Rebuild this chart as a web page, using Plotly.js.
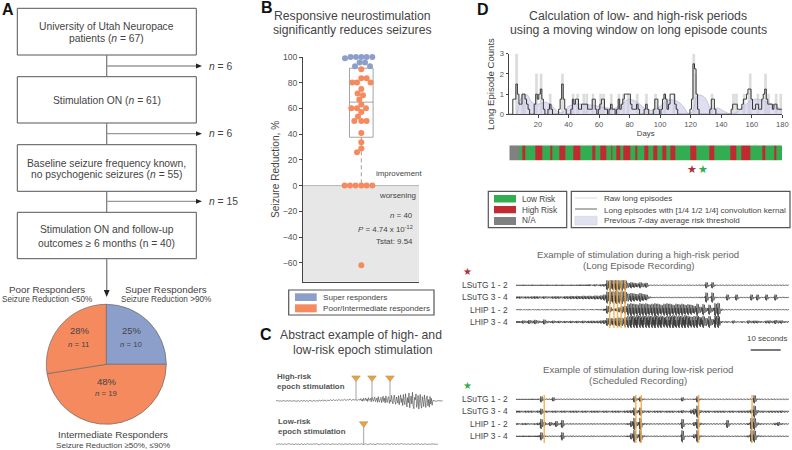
<!DOCTYPE html>
<html><head><meta charset="utf-8">
<script src="https://cdn.plot.ly/plotly-3.0.1.min.js"></script>
<style>html,body{margin:0;padding:0;background:#fff}#c{width:792px;height:450px}</style>
</head><body><div id="c"></div>
<script>
// ---------- Panel A data ----------
const responderNames = ['Super Responders','Intermediate Responders','Poor Responders'];
const responderCounts = [10,19,11];
// ---------- Panel B data ----------
const superOffsets = [-16.3,-10.7,-5.3,0,5.3,11,-6.3,-1.7,3.7,8.7];
const superReduction = [99,100,100,100,100,100,92.9,95.7,95.7,92.9];
const otherOffsets = [0,-9,-4.3,9.3,0,5.3,0,-3.7,1.7,-2,0,-10,-4.3,4.7,0,-3.3,-7,0,5.3,0,0,0,-4.3,-16.7,-11.3,-5.7,0,5.3,11,0];
const otherReduction = [90.5,80.2,80.2,80.2,83.5,83.5,75.2,71.6,70.3,66.9,63,60.2,60.2,60.2,57.3,53.7,50.3,50.3,50.3,41,33.7,28.8,25.9,0,0,0,0,0,0,-62];
const boxQ1 = 37.6, boxMedian = 64.9, boxQ3 = 91.3;
// ---------- Panel C data ----------
const highRiskQuiet = [0,.4,-.3,.2,-.4,.3,0,-.3,.4,-.2,.3,-.4,.2,0,.4,-.3,.3,-.5,.4,-.2,.5,-.3,.2,-.4,.5,0,-.3,.6,-.4,.3,-.2,.7,-.1,.9,.2,1,-.2,.8,.3,1.3,.1,1.4,.2,1.1,.5,1.6,.3,1.2,.6,1.8,.4,1.4,.8,1.9,.3,1.6,.9,1.2,.5,1.6];
const highRiskBurst = [.8,2.4,.2,1.6,-.3,2.8,.4,1.2,3.1,.2,2,-.6,3.4,.6,1.1,2.6,-.9,3.8,.2,-.4,2.2,4.1,-.7,1.5,3,-1.4,4.4,.3,-1.2,2.4,3.7,-1.8,1,4.9,-.6,2.8,-2.1,5.2,.4,-1.5,3.3,4.4,-2.6,1.2,-.8,5.6,.6,-3,2.4,6,-1.2,-3.4,4.1,1,-2.2,5.3,-4,.8,6.2,-1.6,2.6,-4.8,6.6,-.4,-3.8,7.4,1.8,-6.2,3.4,-2,8.2,-7,.6,5,-3.2,8.9,-5.4,-8,3.6,1.2,7.2,-6.6,-2.4,5.6,-8.3,2.8,6.8,-4.2,-7.4,4.4,.8,-5.8,6.2,-2.6,-6.8,3.8,5.2,-5,1.4,-6.4,4.6,-3.2,2.6,-4.6];
const highRiskTail = [.6,.1,-.3,.2,.1,-.1,0];
const lowRiskTrace = [.2,-.3,.4,-.2,.3,-.5,.5,-.3,.2,.5,-.4,.3,-.6,.4,-.2,.1,-.5,.5,-.7,.3,-.4,.6,-.3,.2,-.5,.4,-.2,.5,-.3,-.6,.2,.4,-.4,.3,-.2,.5,-.5,.2,.4,-.3,.3,-.4,.5,-.2,.3,-.5,.4,.1,-.4,.5,-.3,.2,-.3,.4,-.5,.3,-.2,.5,-.4,.1,.4,-.6,.2,.5,-.3,.2,-.5,.3,.6,-.2,.4,-.4,.6,-.3,.5,.1,-.4,.6,-.2,.4,-.5,.5,-.3,.3,.6,-.2,.4,-.4,.5,-.3,.2,.4,-.4,.3,-.2,.4,-.3,.2,-.4,.3,.1,-.3,.2,-.2,.3,-.1,.2,-.2,.1];
const highRiskStim = [80,96,114];
const lowRiskStim = [87.7];
// ---------- Panel D data ----------
const rawDays = [6,10,11,19,22,28,36,43,46,50,52,56,61,63,68,73,76,79,85,91,97,103,109,122,123,134,148,150,155,158,159,164,169,171,176,179];
const rawCounts = [3,1,1,2,2,1,2,1,1,1,1,1,1,1,1,1,1,1,1,1,1,1,1,3,2,1,1,1,1,1,2,1,2,1,1,1];
const convolved = [0,0,0,.75,.75,1.5,1,.5,.5,1,1,.75,.5,.25,0,0,0,.5,1,.75,1,1.25,.75,.25,0,0,.25,.5,.25,0,0,0,0,.25,.75,1.5,.75,.25,0,0,0,.25,.75,.5,.75,.75,.25,.25,.5,.5,.5,.5,.25,.25,.25,.75,.75,.25,0,.25,.5,.75,.75,.25,.25,0,.25,.5,.25,.25,0,.25,.75,.25,.5,.75,1,1,1,1,.5,.25,.25,.25,.5,.25,0,0,0,.25,.5,.25,0,0,0,.25,.75,.75,.25,0,.25,.75,1,.75,.25,.5,1,1,1,.5,.25,0,0,0,0,0,0,0,0,.25,.75,2.5,2.25,1,.25,0,0,0,0,0,0,0,.25,.75,.75,.25,0,0,0,0,0,0,0,0,0,0,.25,.5,.5,.5,.25,.25,.25,.5,.75,.75,1,1.25,1.25,.75,.25,.25,.5,.5,.25,.25,.75,1,1.25,.75,.5,.5,.5,.25,.5,.5,.25,.25,.25,.25];
const thresholdDays = [6,7,8,10,13,16,20,25,30,33,36,40,45,50,55,60,65,70,75,78,80,85,90,95,100,105,109,113,116,118,120,122,124,126,129,131,133,138,143,147,152,155,158,163,170,175,178,180];
const thresholdVals = [0,.3,.6,.95,.95,.6,.5,.6,.35,.12,.08,.4,.5,.5,.45,.4,.32,.3,.5,.7,.75,.6,.3,.2,.4,.7,.7,.55,.3,.08,.05,.3,.9,.95,.85,.6,.3,.3,.1,0,.2,.4,.6,.75,.6,.45,.3,.1];
const riskEdges = [1.3,7.8,8.25,8.7,10,11.8,18.1,22.9,28.3,29.4,33.8,37.7,43.2,47.5,55.8,57.6,60.6,64.6,67.8,68.7,71.6,73.7,75.7,80.3,84,84.9,89.7,92,95.3,98.4,101.5,104.3,106.5,110.2,119.6,123.5,132.2,135.3,146.2,150.1,153.4,158.9,166.9,169.1,175,176.1,179.8];
const riskClass = [2,0,1,0,1,0,1,0,1,0,1,0,1,0,1,0,1,0,1,0,1,0,1,0,1,0,1,0,1,0,1,0,1,0,1,0,1,0,1,0,1,0,1,0,1,0];
const channelNames = ['LSuTG 1 - 2','LSuTG 3 - 4','LHIP 1 - 2','LHIP 3 - 4'];
// envelope amplitude of each recording, one value per second
const highLSuTG12 = [.5,.5,.6,.5,.5,.6,.5,.5,.6,.5,.6,.5,.5,.6,.5,.6,.5,.5,.6,.5,.6,.7,.6,.7,.8,.7,1,.8,1,1.2,5,5.5,5,5.5,5,5.5,5,2.5,3,2.5,2,3,2,2.5,.5,.4,.5,.4,.4,.5,.4,.4,.5,.4,.5,.4,.4,.5,.4,.4,.5,.6,.5,3,.5,3,.6,.4,.5,.4,.5,.4,.5,.4,.5,.4,.5,.4,.5,.4,.5,.4,.5,.4,.5,.4,.5,.4,.5,.4,.4];
const highLSuTG34 = [1,1.2,1,1.1,1,1.2,1.4,1.2,1,1.3,1.1,1,1.2,1.3,1.2,1,1.4,1.3,1.6,1.4,1.7,1.5,1.8,1.6,1.8,1.6,2,1.8,2.2,3,6,6.5,6,6.5,6,6.5,6,4,4.5,4,3.5,4.5,3.5,3,1,.6,.5,.5,.6,.5,.5,.6,.5,.5,.6,.5,.5,.5,.6,.5,.6,.7,.6,5,.6,5,.7,.5,.5,.5,3,.5,.5,3,.5,.5,.5,.5,3,.5,3,.5,.5,3,.5,.5,3,.5,.5,.6,.5];
const highLHIP12 = [.4,.4,.4,.3,.4,.4,.3,.4,.4,.3,.4,.4,.3,.4,.4,.3,.4,.4,.3,.4,.4,.4,.4,.4,.4,.4,.5,.4,.5,1,4,2.5,1,1.5,2.5,3.5,4,6,6.5,6,5.5,6.5,6,6.5,5.5,6,6.5,6,5,6,6.5,6,5,6,5.5,6,5,5.5,5,4,6,3,5.5,2,5,2,6.5,7,1,.4,.4,.4,.3,.4,.4,.3,.4,.4,.3,.4,.4,.4,.3,.4,.4,.3,.4,.4,.3,.4,.4];
const highLHIP34 = [1,1,1.6,1.2,2,1.4,2.2,1.4,1,2.5,1.2,1,1.4,1,1.2,.9,1.1,1,1.2,1,1.2,1,1.3,1.1,1.2,1.3,1.2,1.3,1.6,2,4,4,3.5,4,4.5,4,5,6,6.5,6,7,6,6.5,6,6.5,6,7,6,6.5,5.5,6,6.5,7,6,6.5,6,7,6,5.5,6,6.5,5,6,4,6,3,6.5,6,1,.7,.8,.6,1.5,.7,.6,.8,.6,1.6,1.2,1.4,1.3,1,.7,1.4,1.5,1.2,2,1.4,1.6,1,.8];
const lowLSuTG12 = [.5,.5,.5,.5,.5,.6,.5,.6,3,.6,.6,.6,2,.5,.5,.5,.5,.5,.6,.5,.5,.5,.5,.6,.5,.5,.5,.5,.6,.5,.5,.5,.5,.5,.6,.5,.5,.6,.7,3,1,2.5,.7,.5,.5,.6,.5,.5,.5,.6,.5,.5,.5,.6,.5,2,.5,.6,.5,.7,3,.7,.6,.5,.5,.5,.5,.6,.5,.5,.6,.5,.5,.5,.6,.5,.5,.6,.7,4,.7,.6,.5,.5,.5,.6,.5,.5,.5,.5,.5];
const lowLSuTG34 = [1,1,.9,1,1,1,.9,1.1,3,1,1,.9,1,1,.9,1,1,.9,1,1,1,.9,1,1,.9,1,1,1,.9,1,1,.9,1,1,1,.9,1.1,1.2,1.5,4,1.5,4,1.2,1,1,.9,1,1,1,.9,1,1,1,.9,1,1.5,1,.9,2,3,6,1.4,1,1,1,.9,1,1,1,1,.9,1,1,.9,1,1,1,1.2,2,6,1.5,1,1,.9,1,1,1,1,1.2,1,.9];
const lowLHIP12 = [.8,.7,.9,1,.8,.7,.8,1.2,5,2,.8,2,1.2,3,.8,4,.6,.6,.7,.6,.6,.7,.6,.6,.6,.7,.6,.6,.6,.7,.6,.6,.7,.6,.6,.6,.7,.9,3,6,2,6,1,.8,.7,.6,.6,.7,.6,.6,.7,.6,.6,.6,.7,5,.6,.7,.6,2,5,1.2,.8,.7,.6,.6,.7,.6,.6,.7,4,.7,.6,.6,.7,.6,.7,1,6,6,1.5,.9,.7,.7,.6,.7,1.2,2,.9,.7,.6];
const lowLHIP34 = [.6,.6,.7,.6,.7,.6,.7,.8,4,1,.6,.6,.7,.6,.6,4,.6,.6,.7,.6,.6,.6,.7,.6,.6,.7,.6,.6,.6,.7,.6,.6,.7,.6,.6,.6,.7,.8,3,6,2,6,1,.7,.6,.6,.7,.6,.6,.7,.6,.6,.6,.7,.6,6,.6,.7,.7,2,6,.9,.7,.6,.6,.7,.6,.6,.7,.6,.7,.6,.6,.7,.6,.6,.7,1,6,6,1,.8,.7,.6,.7,.6,.6,.7,.6,.6,.6];
const stimHighSec = [31.2,32.6,33.8,35,36.3];
const stimLowSec = [9.4,39.9,41.7,60.8,78.6];

// ---------- helpers ----------
const W=792,H=450,FONT='"Liberation Sans", Arial, sans-serif';
const BLUE='#8c9fcb',ORANGE='#f58a5e',TXT='#444',STIM='#f3b04e';
const px=x=>x/W, py=y=>1-y/H;
const dx=(a,b)=>[a/W,b/W], dy=(top,bot)=>[1-bot/H,1-top/H];
const annotations=[],shapes=[],traces=[];
function T(text,x,y,size,o={}){annotations.push({text,x:px(x),y:py(y),xref:'paper',yref:'paper',showarrow:false,
  xanchor:o.a||'center',yanchor:'middle',textangle:o.rot||0,borderpad:0,
  font:{family:FONT,size,color:o.c||TXT,weight:o.b?700:400}});}
function L(x0,y0,x1,y1,c,w,dash){shapes.push({type:'line',xref:'paper',yref:'paper',x0:px(x0),y0:py(y0),x1:px(x1),y1:py(y1),line:{color:c,width:w,dash:dash||'solid'}});}
function R(x0,y0,x1,y1,fill,line,w){shapes.push({type:'rect',xref:'paper',yref:'paper',x0:px(x0),y0:py(y0),x1:px(x1),y1:py(y1),fillcolor:fill||'rgba(0,0,0,0)',line:{color:line||'rgba(0,0,0,0)',width:w||0}});}
function P(pts,fill){shapes.push({type:'path',xref:'paper',yref:'paper',path:'M'+pts.map(p=>px(p[0])+' '+py(p[1])).join('L')+'Z',fillcolor:fill,line:{width:0}});}

// ---------- Panel A: flow chart ----------
[[8.3,55],[76.7,123],[144.7,191.3],[212.3,258.7]].forEach(b=>R(17.3,b[0],196.3,b[1],'#fff','#555',1));
T('University of Utah Neuropace',106.7,26.5,10.3);T('patients (<i>n</i> = 67)',106.7,38.5,10.3);
T('Stimulation ON (<i>n</i> = 61)',106.7,100.5,10.3);
T('Baseline seizure frequency known,',106.7,163,10.3);T('no psychogenic seizures (<i>n</i> = 55)',106.7,175,10.3);
T('Stimulation ON and follow-up',106.7,230,10.3);T('outcomes ≥ 6 months (n = 40)',106.7,243,10.3);
[[55,76.7,66,'6'],[123,144.7,133.7,'6'],[191.3,212.3,201.3,'15']].forEach(a=>{
  L(106.7,a[0],106.7,a[1],'#777',1.2);L(106.7,a[2],198,a[2],'#999',1.3);
  P([[196,a[2]-2.4],[202,a[2]],[196,a[2]+2.4]],'#222');
  T('<i>n</i> = '+a[3],208,a[2],10.3,{a:'left'});
});
L(106.7,258.7,106.7,292,'#888',1.4);P([[103.8,290],[106.7,297],[109.6,290]],'#222');
T('Poor Responders',47,289,9.8);T('Seizure Reduction <50%',46.7,299.3,8.2);
T('Super Responders',165.7,289,9.8);T('Seizure Reduction >90%',165.7,299.3,8.2);
T('Intermediate Responders',112.7,434,9.8);T('Seizure Reduction ≥50%, ≤90%',112.5,445,8.1);
T('28%',80,330.7,9.5);T('<i>n</i> = 11',78.7,344,7.8);
T('25%',132,330.7,9.5);T('<i>n</i> = 10',131,344,7.8);
T('48%',107,381,9.5);T('<i>n</i> = 19',106,393,7.8);
traces.push({type:'pie',labels:responderNames,values:responderCounts,sort:false,direction:'clockwise',rotation:0,
  textinfo:'none',hoverinfo:'label+value',showlegend:false,automargin:false,
  marker:{colors:[BLUE,ORANGE,ORANGE],line:{color:'#6a6a6a',width:.7}},
  domain:{x:dx(46.3,166.3),y:dy(304.3,424.3)}});

// ---------- Panel B ----------
shapes.push({type:'rect',xref:'x',yref:'y',x0:-58.3,x1:57.7,y0:-74.7,y1:0,fillcolor:'#e7e7e7',line:{width:0},layer:'below'});
shapes.push({type:'line',xref:'x',yref:'y',x0:-58.3,x1:57.7,y0:0,y1:0,line:{color:'#b5b5b5',width:1},layer:'below'});
traces.push({type:'scatter',mode:'lines',x:[0,0],y:[boxQ1,0],line:{color:'#888',width:.8,dash:'4px,3px'},showlegend:false,hoverinfo:'skip',xaxis:'x',yaxis:'y'});
traces.push({type:'scatter',mode:'markers',x:superOffsets,y:superReduction,marker:{color:BLUE,size:6},cliponaxis:false,showlegend:false,xaxis:'x',yaxis:'y'});
traces.push({type:'scatter',mode:'markers',x:otherOffsets,y:otherReduction,marker:{color:ORANGE,size:6},cliponaxis:false,showlegend:false,xaxis:'x',yaxis:'y'});
traces.push({type:'box',x:[0],q1:[boxQ1],median:[boxMedian],q3:[boxQ3],lowerfence:[boxQ1],upperfence:[boxQ3],width:23.6,
  fillcolor:'rgba(0,0,0,0)',line:{color:'#9a9a9a',width:.9},whiskerwidth:0,boxpoints:false,showlegend:false,xaxis:'x',yaxis:'y'});
T('Responsive neurostimulation',352.7,15.7,12.2);T('significantly reduces seizures',352.7,30.3,12.2);
T('improvement',375,173.3,7.9,{a:'left'});T('worsening',416.7,196,7.9,{a:'right'});
T('<i>n</i> = 40',414,215.7,7.9,{a:'right'});
T('<i>P</i> = 4.74 x 10<sup>-12</sup>',414,228.7,7.9,{a:'right'});
T('Tstat: 9.54',414,241.3,7.9,{a:'right'});
R(288.7,290,434,315,'#fff','#555',1.2);
R(295,293.3,316.7,301,BLUE);R(295,304.3,316.7,312.3,ORANGE);
T('Super responders',321.7,297.3,8.1,{a:'left'});T('Poor/Intermediate responders',321.7,308.3,8.1,{a:'left'});

// ---------- Panel C ----------
T('Abstract example of high- and',361,335,12.2);T('low-risk epoch stimulation',362.7,350,12.2);
T('High-risk',275.7,376.7,7.9,{a:'left',b:1,c:'#555'});T('epoch stimulation',275.7,386,7.9,{a:'left',b:1,c:'#555'});
T('Low-risk',276.5,421.7,7.9,{a:'left',b:1,c:'#555'});T('epoch stimulation',276.5,431,7.9,{a:'left',b:1,c:'#555'});
const cHigh=44.3,cLow=0;
function stems(list,base,top){const X=[],Y=[];list.forEach(s=>{X.push(s,s,null);Y.push(base,top,null);});return{X,Y};}
const quietX=highRiskQuiet.map((v,i)=>i*1.4), burstX=highRiskBurst.map((v,i)=>84+i*.7), tailX=highRiskTail.map((v,i)=>157+i*1.6);
traces.push({type:'scatter',mode:'lines',x:quietX.concat(burstX,tailX),y:highRiskQuiet.concat(highRiskBurst,highRiskTail).map(v=>cHigh+v),line:{color:'#333',width:.55},showlegend:false,hoverinfo:'skip',xaxis:'x6',yaxis:'y6'});
traces.push({type:'scatter',mode:'lines',x:lowRiskTrace.map((v,i)=>i*1.5),y:lowRiskTrace.map(v=>cLow+v),line:{color:'#555',width:.6},showlegend:false,hoverinfo:'skip',xaxis:'x6',yaxis:'y6'});
const s1=stems(highRiskStim,cHigh+1,cHigh+21),s2=stems(lowRiskStim,cLow,cLow+19);
traces.push({type:'scatter',mode:'lines',x:s1.X.concat(s2.X),y:s1.Y.concat(s2.Y),line:{color:'#8a8a8a',width:.8},showlegend:false,hoverinfo:'skip',xaxis:'x6',yaxis:'y6'});
traces.push({type:'scatter',mode:'markers',x:highRiskStim.concat(lowRiskStim),y:highRiskStim.map(()=>cHigh+23.7).concat([cLow+21]),
  marker:{symbol:'triangle-down',size:7.5,color:'#eaa23f',line:{color:'#b98a50',width:.5}},showlegend:false,hoverinfo:'skip',cliponaxis:false,xaxis:'x6',yaxis:'y6'});

// ---------- Panel D: counts ----------
T('Calculation of low- and high-risk periods',638.3,15.7,12.3);T('using a moving window on long episode counts',638.3,30.3,12.3);
traces.push({type:'scatter',mode:'lines',x:thresholdDays,y:thresholdVals,fill:'tozeroy',fillcolor:'rgba(204,204,232,.62)',line:{color:'#b3b3d2',width:.7,shape:'spline'},showlegend:false,hoverinfo:'skip',xaxis:'x2',yaxis:'y2'});
traces.push({type:'bar',x:rawDays,y:rawCounts,width:1.3,marker:{color:'#dedede',line:{color:'#cccccc',width:.4}},showlegend:false,xaxis:'x2',yaxis:'y2'});
traces.push({type:'scatter',mode:'lines',x:convolved.map((v,i)=>i+1),y:convolved,line:{color:'#333',width:1,shape:'hvh'},showlegend:false,hoverinfo:'skip',xaxis:'x2',yaxis:'y2'});
// risk strip
traces.push({type:'heatmap',x:riskEdges,y:[0],z:[riskClass],zmin:0,zmax:2,showscale:false,hoverinfo:'skip',xaxis:'x3',yaxis:'y3',
  colorscale:[[0,'#33ad50'],[.33,'#33ad50'],[.34,'#c12a30'],[.66,'#c12a30'],[.67,'#808080'],[1,'#808080']]});
T('★',692.3,168.7,11,{c:'#a8323c'});T('★',703.3,168.7,11,{c:'#33ad50'});
// legends
R(488.3,191.3,566.7,227.7,'#fff','#555',1.2);R(571.3,191.3,790,227.7,'#fff','#555',1.2);
R(494,195,516,202.5,'#33ad50');R(494,206,516,213.3,'#c12a30');R(494,217,516,225,'#808080');
T('Low Risk',521.3,199,8.2,{a:'left'});T('High Risk',521.3,210,8.2,{a:'left'});T('N/A',521.3,221,8.2,{a:'left'});
L(575,198,597,198,'#d9d9d9',1);L(575,209,597,209,'#555',.9);R(575,216.3,597,225,'#e1e1f0','#cfcfe2',.6);
T('Raw long episodes',602.7,198.5,8.1,{a:'left'});T('Long episodes with [1/4 1/2 1/4] convolution kernal',602.7,210,8.1,{a:'left'});T('Previous 7-day average risk threshold',602.7,221,8.1,{a:'left'});

// ---------- Panel D: recordings ----------
const swing=[.3,-.8,1,-1,.7,-.4,.9,-.6];
function zig(amps,base){const X=[],Y=[],k=0.082;amps.forEach((a,i)=>{swing.forEach((m,j)=>{X.push(i+j/swing.length);Y.push(base+m*a*k);});});return{X,Y};}
function eeg(amps,base,xa,ya){const z=zig(amps,base);traces.push({type:'scatter',mode:'lines',x:z.X,y:z.Y,line:{color:'#111',width:.5},showlegend:false,hoverinfo:'skip',xaxis:xa,yaxis:ya});}
[highLSuTG12,highLSuTG34,highLHIP12,highLHIP34].forEach((a,i)=>eeg(a,3-i,'x4','y4'));
[lowLSuTG12,lowLSuTG34,lowLHIP12,lowLHIP34].forEach((a,i)=>eeg(a,3-i,'x5','y5'));
function stimLines(list,xa,ya,lo,hi){const s=stems(list,lo,hi);traces.push({type:'scatter',mode:'lines',x:s.X,y:s.Y,line:{color:STIM,width:1.5},opacity:.9,showlegend:false,hoverinfo:'skip',xaxis:xa,yaxis:ya});}
stimLines(stimHighSec,'x4','y4',-.49,3.43);
stimLines(stimLowSec,'x5','y5',-.54,3.35);
T('Example of stimulation during a high-risk period',638.3,254,9.6,{c:'#666'});T('(Long Episode Recording)',638.3,265,9.6,{c:'#666'});
T('Example of stimulation during low-risk period',638.3,369,9.6,{c:'#666'});T('(Scheduled Recording)',638.3,380,9.6,{c:'#666'});
T('★',467.5,271.7,9.5,{c:'#a8323c'});T('★',467.5,385,9.5,{c:'#33ad50'});
[285.3,297.3,310,322].forEach((y,i)=>T(channelNames[i],509,y,8.4,{a:'right'}));
[399.3,411.3,423.7,436.3].forEach((y,i)=>T(channelNames[i],509,y,8.4,{a:'right'}));
T('10 seconds',788,338.7,7.9,{a:'right'});
L(750.7,350,780.7,350,'#222',1.2);

// letters
T('A',1,9,16,{a:'left',b:1,c:'#111'});T('B',260,7.7,16,{a:'left',b:1,c:'#111'});
T('C',259,334,16,{a:'left',b:1,c:'#111'});T('D',476,9,16,{a:'left',b:1,c:'#111'});

const hidden=(domain,range,anchor)=>({domain,range,anchor,visible:false,fixedrange:true});
const tickFont=(s)=>({family:FONT,size:s,color:'#555'});
const layout={width:W,height:H,margin:{l:0,r:0,t:0,b:0,pad:0},paper_bgcolor:'#fff',plot_bgcolor:'rgba(0,0,0,0)',showlegend:false,
  barmode:'overlay',annotations,shapes,font:{family:FONT},
  xaxis:{domain:dx(303,419),range:[-58.3,57.7],anchor:'y',showgrid:false,zeroline:false,showticklabels:false,ticks:'',showline:true,linecolor:'#444',linewidth:1},
  yaxis:{domain:dy(57,281.7),range:[-74.7,100],anchor:'x',showgrid:false,zeroline:false,showline:true,linecolor:'#444',linewidth:1,
    ticks:'outside',ticklen:3,tickcolor:'#444',tickvals:[-60,-40,-20,0,20,40,60,80,100],tickfont:tickFont(8.6),
    title:{text:'Seizure Reduction, %',font:{family:FONT,size:10.1,color:TXT},standoff:1}},
  xaxis2:{domain:dx(509,782.3),range:[1,180],anchor:'y2',showgrid:false,zeroline:false,showline:true,linecolor:'#444',linewidth:1,
    ticks:'outside',ticklen:2.5,tickcolor:'#444',tickvals:[20,40,60,80,100,120,140,160,180],tickfont:tickFont(7.6),
    title:{text:'Days',font:{family:FONT,size:7.8,color:TXT},standoff:2}},
  yaxis2:{domain:dy(53.7,114.3),range:[0,3],anchor:'x2',showgrid:false,zeroline:false,showline:true,linecolor:'#444',linewidth:1,
    ticks:'outside',ticklen:2.5,tickcolor:'#444',tickvals:[0,1,2,3],tickfont:tickFont(7.6),
    title:{text:'Long Episode Counts',font:{family:FONT,size:9.6,color:TXT},standoff:3}},
  xaxis3:hidden(dx(509.3,782),[1.3,179.8],'y3'),yaxis3:hidden(dy(145.3,160.7),[-.5,.5],'x3'),
  xaxis4:hidden(dx(516,789.3),[0,91],'y4'),yaxis4:hidden(dy(280,328),[-.49,3.43],'x4'),
  xaxis5:hidden(dx(516,789.3),[0,91],'y5'),yaxis5:hidden(dy(395,443),[-.54,3.35],'x5'),
  xaxis6:hidden(dx(276,443),[0,167],'y6'),yaxis6:hidden(dy(370,452),[-6,76],'x6')
};
Plotly.newPlot('c',traces,layout,{displayModeBar:false,staticPlot:true});
</script></body></html>
